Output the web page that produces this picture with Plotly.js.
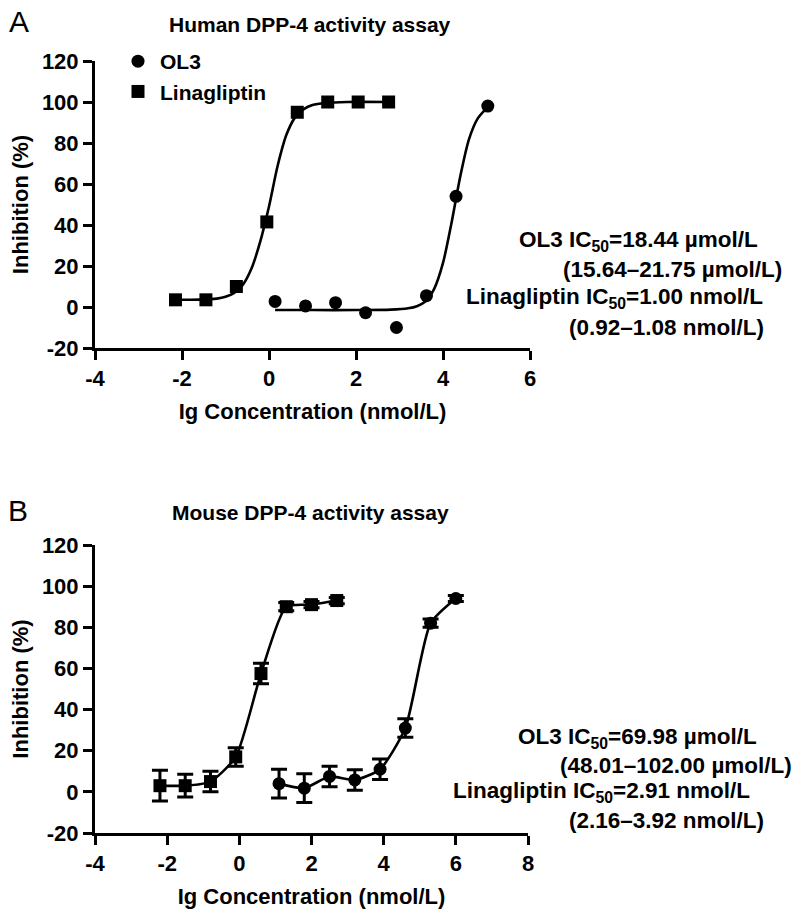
<!DOCTYPE html>
<html>
<head>
<meta charset="utf-8">
<script src="https://cdn.plot.ly/plotly-3.0.1.min.js"></script>
<style>html,body{margin:0;padding:0;background:#fff;}#chart{width:800px;height:918px;}</style>
</head>
<body>
<div id="chart"></div>
<script>
// ---------- Panel A: Human DPP-4 activity assay ----------
const linaA_x = [-2.15, -1.45, -0.75, -0.05, 0.65, 1.35, 2.05, 2.75];
const linaA_y = [3.5, 3.5, 10, 41.5, 95, 100, 100, 100];
const ol3A_x = [0.14, 0.84, 1.53, 2.22, 2.93, 3.62, 4.3, 5.03];
const ol3A_y = [2.7, 0.5, 2.1, -2.8, -10, 5.5, 54, 98];
// fitted curves
const linaFitA_x = [-2.15, -1.6, -1.2, -1.0, -0.8, -0.6, -0.4, -0.2, 0, 0.2, 0.4, 0.6, 0.8, 1.0, 1.3, 1.8, 2.75];
const linaFitA_y = [3.5, 3.6, 4.1, 5.0, 6.9, 10.9, 18.9, 32, 49, 69, 84, 92.5, 96.5, 98.5, 99.5, 100, 100];
const ol3FitA_x = [0.14, 1.0, 2.0, 2.8, 3.2, 3.4, 3.6, 3.8, 4.0, 4.2, 4.4, 4.6, 4.8, 5.03];
const ol3FitA_y = [-1.5, -1.5, -1.5, -1.3, -0.6, 0.4, 2.8, 9, 21.5, 41.5, 64, 82, 92, 97.5];

// ---------- Panel B: Mouse DPP-4 activity assay ----------
const linaB_x = [-2.2, -1.5, -0.8, -0.1, 0.6, 1.3, 2.0, 2.7];
const linaB_y = [3, 3, 5, 17, 57.5, 90, 91, 93];
const linaB_err = [7.5, 5.5, 5, 4.5, 5, 2, 1.5, 1.5];
const ol3B_x = [1.1, 1.8, 2.5, 3.2, 3.9, 4.6, 5.3, 6.0];
const ol3B_y = [4, 1.8, 7.5, 5.8, 11, 31, 82, 94];
const ol3B_err = [7, 7, 5, 5, 5, 4.5, 2, 1.5];

// ---------- Texts ----------
const titleA = "Human DPP-4 activity assay";
const titleB = "Mouse DPP-4 activity assay";
const xTitle = "Ig Concentration (nmol/L)";
const yTitle = "Inhibition (%)";
const seriesNames = ["OL3", "Linagliptin"];
const textA = ["OL3 IC<sub>50</sub>=18.44 µmol/L", "(15.64–21.75 µmol/L)", "Linagliptin IC<sub>50</sub>=1.00 nmol/L", "(0.92–1.08 nmol/L)"];
const textB = ["OL3 IC<sub>50</sub>=69.98 µmol/L", "(48.01–102.00 µmol/L)", "Linagliptin IC<sub>50</sub>=2.91 nmol/L", "(2.16–3.92 nmol/L)"];
const yTicks = [-20, 0, 20, 40, 60, 80, 100, 120];
const xTicksA = [-4, -2, 0, 2, 4, 6];
const xTicksB = [-4, -2, 0, 2, 4, 6, 8];

const W = 800, H = 918;
const FONT = "Liberation Sans, Arial, Helvetica, sans-serif";
const px = v => v / W;
const py = v => 1 - v / H;

const mk = (sym) => ({symbol: sym, size: 13, color: "#000"});
const traces = [
  // panel A
  {x: ol3FitA_x, y: ol3FitA_y, mode: "lines", line: {color: "#000", width: 2.6, shape: "spline", smoothing: 0.8}, showlegend: false, xaxis: "x", yaxis: "y", cliponaxis: false},
  {x: linaFitA_x, y: linaFitA_y, mode: "lines", line: {color: "#000", width: 2.6, shape: "spline", smoothing: 0.8}, showlegend: false, xaxis: "x", yaxis: "y", cliponaxis: false},
  {x: ol3A_x, y: ol3A_y, mode: "markers", marker: mk("circle"), name: seriesNames[0], xaxis: "x", yaxis: "y", cliponaxis: false},
  {x: linaA_x, y: linaA_y, mode: "markers", marker: mk("square"), name: seriesNames[1], xaxis: "x", yaxis: "y", cliponaxis: false},
  // panel B
  {x: ol3B_x, y: ol3B_y, mode: "lines+markers", marker: mk("circle"), line: {color: "#000", width: 2.6, shape: "spline", smoothing: 0.6},
   error_y: {type: "data", array: ol3B_err, visible: true, color: "#000", thickness: 3, width: 8}, showlegend: false, xaxis: "x2", yaxis: "y2", cliponaxis: false},
  {x: linaB_x, y: linaB_y, mode: "lines+markers", marker: mk("square"), line: {color: "#000", width: 2.6, shape: "spline", smoothing: 0.6},
   error_y: {type: "data", array: linaB_err, visible: true, color: "#000", thickness: 3, width: 8}, showlegend: false, xaxis: "x2", yaxis: "y2", cliponaxis: false}
];

const tickFont = {family: FONT, size: 22, color: "#000", weight: "bold"};
const titleFont = {family: FONT, size: 22, color: "#000", weight: "bold"};
function xAxis(domain, range, ticks, anchor) {
  return {domain, range, tickvals: ticks, ticktext: ticks.map(String), showline: true, linewidth: 3, linecolor: "#000",
    ticks: "outside", ticklen: 9, tickwidth: 3, tickcolor: "#000", showgrid: false, zeroline: false, tickfont: tickFont,
    anchor, fixedrange: true, title: {text: xTitle, font: titleFont, standoff: 14}};
}
function yAxis(domain, anchor) {
  return {domain, range: [-20, 120], tickvals: yTicks, ticktext: yTicks.map(String), showline: true, linewidth: 3, linecolor: "#000",
    ticks: "outside", ticklen: 9, tickwidth: 3, tickcolor: "#000", showgrid: false, zeroline: false, tickfont: tickFont,
    anchor, fixedrange: true, title: {text: yTitle, font: titleFont, standoff: 8}};
}

const annFont = {family: FONT, size: 22.5, color: "#000", weight: "bold"};
function ann(text, x, y, opts) {
  return Object.assign({text, x: px(x), y: py(y), xref: "paper", yref: "paper", showarrow: false, xanchor: "left", yanchor: "middle", font: annFont}, opts || {});
}
const annotations = [
  ann("A", 19, 22, {xanchor: "center", font: {family: FONT, size: 30, color: "#000"}}),
  ann("B", 18, 510, {xanchor: "center", font: {family: FONT, size: 30, color: "#000"}}),
  ann(titleA, 310, 24, {xanchor: "center", font: {family: FONT, size: 21, color: "#000", weight: "bold"}}),
  ann(titleB, 310, 512, {xanchor: "center", font: {family: FONT, size: 21, color: "#000", weight: "bold"}}),
  ann(textA[0], 517, 241), ann(textA[1], 561, 269), ann(textA[2], 464, 298), ann(textA[3], 567, 327),
  ann(textB[0], 516, 738), ann(textB[1], 558, 765), ann(textB[2], 451, 792), ann(textB[3], 567, 820)
];

const layout = {
  width: W, height: H, margin: {l: 0, r: 0, t: 0, b: 0}, paper_bgcolor: "#fff", plot_bgcolor: "rgba(0,0,0,0)",
  font: {family: FONT, color: "#000"},
  xaxis: xAxis([px(95), px(530)], [-4, 6], xTicksA, "y"),
  yaxis: yAxis([py(348), py(61)], "x"),
  xaxis2: xAxis([px(95), px(528)], [-4, 8], xTicksB, "y2"),
  yaxis2: yAxis([py(833), py(545)], "x2"),
  showlegend: true,
  legend: {x: px(116), y: py(41), xanchor: "left", yanchor: "top", bgcolor: "rgba(0,0,0,0)", borderwidth: 0, itemwidth: 34,
    font: {family: FONT, size: 21, color: "#000", weight: "bold"}, traceorder: "normal", itemclick: false, itemdoubleclick: false},
  annotations
};

Plotly.newPlot("chart", traces, layout, {displayModeBar: false, staticPlot: true});
</script>
</body>
</html>
